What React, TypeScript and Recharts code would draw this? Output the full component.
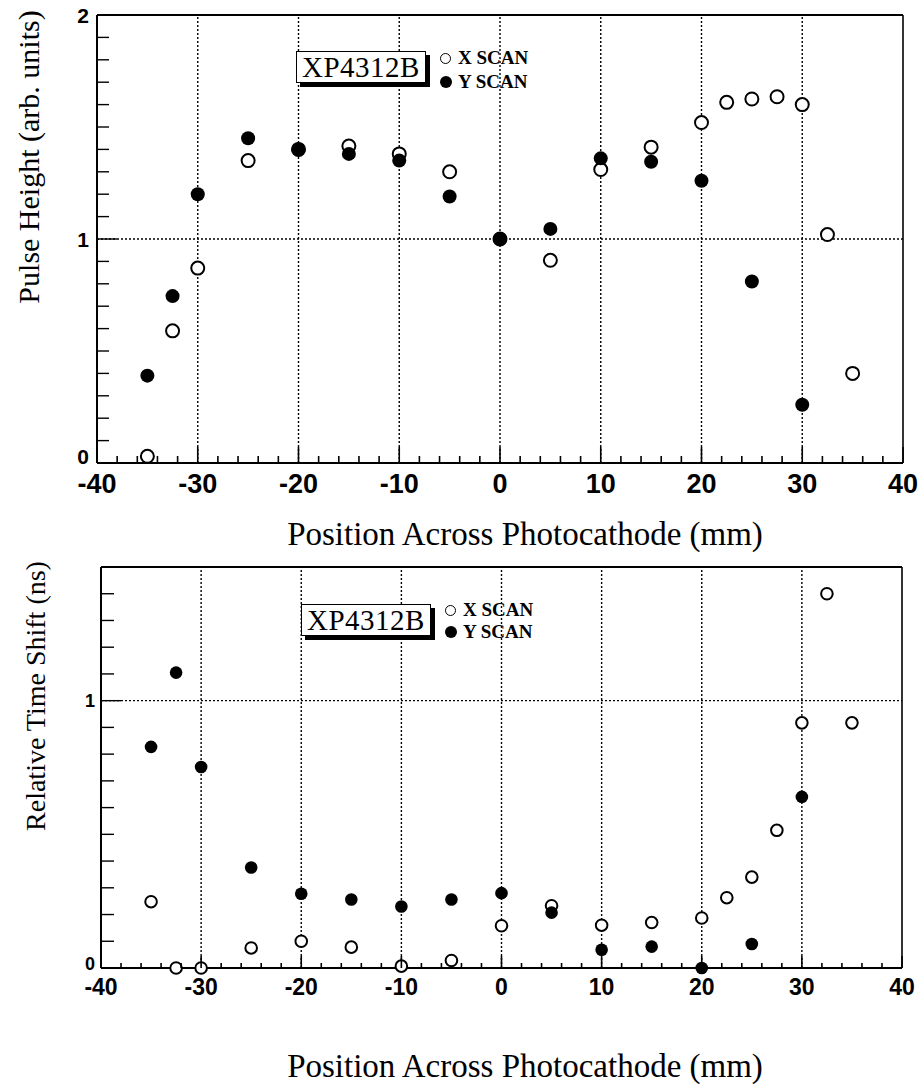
import { ScatterChart, Scatter, XAxis, YAxis, ReferenceLine, Legend, Label } from 'recharts'

// scan positions (mm)
const xScanPos = [-35, -32.5, -30, -25, -20, -15, -10, -5, 0, 5, 10, 15, 20, 22.5, 25, 27.5, 30, 32.5, 35]
const yScanPos = [-35, -32.5, -30, -25, -20, -15, -10, -5, 0, 5, 10, 15, 20, 25, 30]

// pulse height (arb. units)
const pulseXScan = [0.03, 0.59, 0.87, 1.35, 1.4, 1.415, 1.38, 1.3, 1.0, 0.905, 1.31, 1.41, 1.52, 1.61, 1.625, 1.635, 1.6, 1.02, 0.4]
const pulseYScan = [0.39, 0.745, 1.2, 1.45, 1.4, 1.38, 1.35, 1.19, 1.0, 1.045, 1.36, 1.345, 1.26, 0.81, 0.26]

// relative time shift (ns)
const shiftXScan = [0.248, 0, 0, 0.075, 0.1, 0.078, 0.007, 0.028, 0.158, 0.233, 0.16, 0.17, 0.187, 0.263, 0.34, 0.515, 0.917, 1.4, 0.917]
const shiftYScan = [0.827, 1.105, 0.752, 0.376, 0.278, 0.256, 0.23, 0.256, 0.28, 0.207, 0.068, 0.08, 0.0, 0.09, 0.64]

const xTicks = Array.from({ length: 41 }, (_, i) => -40 + i * 2)
const gridX = [-30, -20, -10, 0, 10, 20, 30]
const pulseTicks = Array.from({ length: 21 }, (_, i) => i / 10)
const shiftTicks = Array.from({ length: 16 }, (_, i) => i / 10)

const LEGEND_TAG = 'XP4312B'
const X_TITLE = 'Position Across Photocathode (mm)'

const toPoints = (xs: number[], ys: number[]) => xs.map((x, i) => ({ x, y: ys[i] }))

const SERIF = '"Liberation Serif", "Times New Roman", serif'
const SANS = '"Liberation Sans", Arial, sans-serif'

type PanelCfg = {
  top: number
  height: number
  margin: { top: number; right: number }
  yAxisWidth: number
  xAxisHeight: number
  yMax: number
  yTicks: number[]
  xScan: { x: number; y: number }[]
  yScan: { x: number; y: number }[]
  yTitle: string
  yTitleSize: number
  yTitlePos: [number, number]
  xTitlePos: [number, number]
  xFont: number
  xLabelDy: number
  xMajor: number
  xMinor: number
  yFont: number
  yLabelDx: number
  yZeroLift: number
  yMajor: number
  yMinor: number
  openR: number
  fillR: number
  legendPos: [number, number]
  legendGap: number
}

function Panel({ cfg }: { cfg: PanelCfg }) {
  const openShape = (p: any) => (
    <circle cx={p.cx} cy={p.cy} r={cfg.openR} fill="#fff" stroke="#000" strokeWidth={2} />
  )
  const fillShape = (p: any) => <circle cx={p.cx} cy={p.cy} r={cfg.fillR} fill="#000" />

  const xTick = (p: any) => {
    const v = p.payload.value
    const major = v % 10 === 0
    return (
      <g>
        <line x1={p.x} x2={p.x} y1={p.y} y2={p.y - (major ? cfg.xMajor : cfg.xMinor)} stroke="#000" strokeWidth={1.6} />
        {major && (
          <text
            x={p.x}
            y={p.y + cfg.xLabelDy}
            textAnchor="middle"
            dominantBaseline="central"
            fontFamily={SANS}
            fontWeight={700}
            fontSize={cfg.xFont}
            fill="#000"
          >
            {v}
          </text>
        )}
      </g>
    )
  }

  const yTick = (p: any) => {
    const v = Math.round(p.payload.value * 10) / 10
    const major = Number.isInteger(v)
    return (
      <g>
        <line x1={p.x} x2={p.x + (major ? cfg.yMajor : cfg.yMinor)} y1={p.y} y2={p.y} stroke="#000" strokeWidth={1.4} />
        {major && (
          <text
            x={p.x - cfg.yLabelDx}
            y={v === 0 ? p.y - cfg.yZeroLift : p.y}
            textAnchor="end"
            dominantBaseline="central"
            fontFamily={SANS}
            fontWeight={700}
            fontSize={cfg.yFont}
            fill="#000"
          >
            {v}
          </text>
        )}
      </g>
    )
  }

  const legend = () => (
    <div style={{ display: 'flex', alignItems: 'flex-start', fontFamily: SERIF }}>
      <div
        style={{
          border: '1.5px solid #000',
          boxShadow: '4px 4px 0 #000',
          background: '#fff',
          fontSize: 29,
          lineHeight: '30px',
          padding: '0 5px',
          letterSpacing: 0.5,
        }}
      >
        {LEGEND_TAG}
      </div>
      <div style={{ marginLeft: 14, marginTop: -5, fontSize: 19, fontWeight: 700, lineHeight: `${cfg.legendGap}px` }}>
        <div style={{ display: 'flex', alignItems: 'center' }}>
          <span style={{ width: 9, height: 9, border: '1.6px solid #000', borderRadius: '50%', display: 'inline-block', marginRight: 7 }} />
          X SCAN
        </div>
        <div style={{ display: 'flex', alignItems: 'center' }}>
          <span style={{ width: 12, height: 12, background: '#000', borderRadius: '50%', display: 'inline-block', marginRight: 6 }} />
          Y SCAN
        </div>
      </div>
    </div>
  )

  return (
    <div style={{ position: 'absolute', left: 0, top: cfg.top }}>
      <ScatterChart
        width={918}
        height={cfg.height}
        margin={{ top: cfg.margin.top, right: cfg.margin.right, bottom: 0, left: 0 }}
      >
        <XAxis
          type="number"
          dataKey="x"
          domain={[-40, 40]}
          ticks={xTicks}
          interval={0}
          height={cfg.xAxisHeight}
          tickSize={0}
          tickMargin={0}
          tickLine={false}
          axisLine={{ stroke: '#000', strokeWidth: 2 }}
          tick={xTick}
        >
          <Label
            content={() => (
              <text
                x={cfg.xTitlePos[0]}
                y={cfg.xTitlePos[1]}
                textAnchor="middle"
                fontFamily={SERIF}
                fontSize={33}
                fill="#000"
              >
                {X_TITLE}
              </text>
            )}
          />
        </XAxis>
        <YAxis
          type="number"
          dataKey="y"
          domain={[0, cfg.yMax]}
          ticks={cfg.yTicks}
          interval={0}
          width={cfg.yAxisWidth}
          tickSize={0}
          tickMargin={0}
          tickLine={false}
          axisLine={{ stroke: '#000', strokeWidth: 2 }}
          tick={yTick}
        >
          <Label
            content={() => (
              <text
                x={cfg.yTitlePos[0]}
                y={cfg.yTitlePos[1]}
                transform={`rotate(-90 ${cfg.yTitlePos[0]} ${cfg.yTitlePos[1]})`}
                textAnchor="middle"
                dominantBaseline="central"
                fontFamily={SERIF}
                fontSize={cfg.yTitleSize}
                fill="#000"
              >
                {cfg.yTitle}
              </text>
            )}
          />
        </YAxis>
        {gridX.map((g) => (
          <ReferenceLine key={g} x={g} stroke="#000" strokeWidth={1.4} strokeDasharray="2 2" />
        ))}
        <ReferenceLine y={1} stroke="#000" strokeWidth={1.4} strokeDasharray="2 2" />
        <ReferenceLine y={cfg.yMax} stroke="#000" strokeWidth={2} />
        <ReferenceLine x={40} stroke="#000" strokeWidth={1.6} />
        <Legend
          layout="horizontal"
          verticalAlign="middle"
          align="center"
          content={legend}
          wrapperStyle={{ left: cfg.legendPos[0], top: cfg.legendPos[1], width: 'auto', height: 'auto' }}
        />
        <Scatter name="X SCAN" data={cfg.xScan} shape={openShape} isAnimationActive={false} />
        <Scatter name="Y SCAN" data={cfg.yScan} shape={fillShape} isAnimationActive={false} />
      </ScatterChart>
    </div>
  )
}

const pulsePanel: PanelCfg = {
  top: 0,
  height: 560,
  margin: { top: 15, right: 15 },
  yAxisWidth: 97,
  xAxisHeight: 97,
  yMax: 2,
  yTicks: pulseTicks,
  xScan: toPoints(xScanPos, pulseXScan),
  yScan: toPoints(yScanPos, pulseYScan),
  yTitle: 'Pulse Height (arb. units)',
  yTitleSize: 30,
  yTitlePos: [28, 157],
  xTitlePos: [525, 545],
  xFont: 27,
  xLabelDy: 21,
  xMajor: 16,
  xMinor: 7,
  yFont: 21,
  yLabelDx: 8,
  yZeroLift: 7,
  yMajor: 20,
  yMinor: 12,
  openR: 6.5,
  fillR: 7,
  legendPos: [296, 51],
  legendGap: 24,
}

const shiftPanel: PanelCfg = {
  top: 545,
  height: 539,
  margin: { top: 22, right: 16 },
  yAxisWidth: 101,
  xAxisHeight: 116,
  yMax: 1.5,
  yTicks: shiftTicks,
  xScan: toPoints(xScanPos, shiftXScan),
  yScan: toPoints(yScanPos, shiftYScan),
  yTitle: 'Relative Time Shift (ns)',
  yTitleSize: 28,
  yTitlePos: [35, 151],
  xTitlePos: [525, 532],
  xFont: 23,
  xLabelDy: 19,
  xMajor: 12,
  xMinor: 5,
  yFont: 18,
  yLabelDx: 6,
  yZeroLift: 4,
  yMajor: 20,
  yMinor: 13,
  openR: 5.8,
  fillR: 6.3,
  legendPos: [301, 59],
  legendGap: 22,
}

export default function App() {
  return (
    <div style={{ position: 'absolute', left: 0, top: 0, width: 918, height: 1084, background: '#fff', overflow: 'hidden' }}>
      <Panel cfg={pulsePanel} />
      <Panel cfg={shiftPanel} />
    </div>
  )
}
